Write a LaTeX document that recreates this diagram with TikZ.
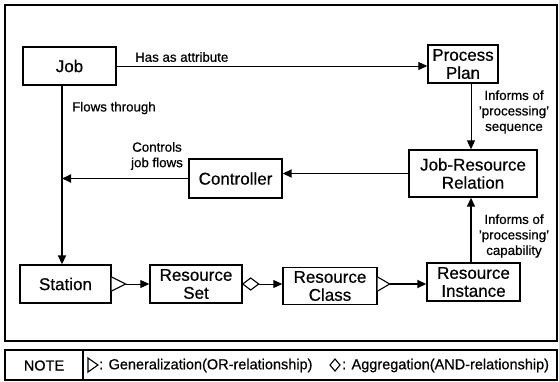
\documentclass[tikz,border=0pt]{standalone}
\usepackage{fontspec}
\setmainfont[FakeBold=0.6]{Liberation Sans}
\usetikzlibrary{arrows.meta,calc}
\begin{document}
\begin{tikzpicture}[x=1pt,y=-1pt,
  box/.style={draw,line width=1.4pt,inner sep=0pt,align=center,
    font=\fontsize{17}{18}\selectfont},
  lbl/.style={font=\fontsize{13.3}{15.5}\selectfont,align=center,inner sep=0pt},
  notetxt/.style={font=\fontsize{14.5}{16}\selectfont,inner sep=0pt},
  arr/.style={-{Triangle[length=9pt,width=8pt]}},
  thinln/.style={line width=0.9pt},
  thickln/.style={line width=1.8pt},
  sym/.style={line width=1.1pt,fill=white},
]
\useasboundingbox (0,0) rectangle (559,381);
% frames
\draw[line width=1.4pt] (5,5) rectangle (557,341);
\draw[line width=1.4pt] (5,350) rectangle (557,380);
\draw[line width=1.2pt] (83,350) -- (83,380);

% boxes
\node[box,minimum width=93pt,minimum height=38pt] (job) at (69.5,66) {Job};
\node[box,minimum width=70pt,minimum height=38pt] (pp) at (463,64) {Process\\Plan};
\node[box,minimum width=128pt,minimum height=47pt] (jrr) at (473,173.5) {Job-Resource\\Relation};
\node[box,minimum width=93pt,minimum height=39pt] (ctl) at (235.5,178.5) {Controller};
\node[box,minimum width=91pt,minimum height=38pt] (st) at (65.5,284) {Station};
\node[box,minimum width=92pt,minimum height=38pt] (rs) at (196,284) {Resource\\Set};
\node[box,minimum width=94pt,minimum height=37pt] (rc) at (330,286) {Resource\\Class};
\node[box,minimum width=93pt,minimum height=38pt] (ri) at (473.5,282) {Resource\\Instance};

% helper coordinates
\coordinate (vl) at (62,0);
\coordinate (ax) at (471,0);
\coordinate (row) at (0,284);

% connectors
\draw[thinln,arr] (job.east) -- (job.east -| pp.west);
\node[lbl,anchor=west] (l1) at (135,57) {Has as attribute};

\draw[thinln,arr] (pp.south -| ax) -- (jrr.north -| ax);
\node[lbl] (l2) at (514,112) {Informs of\\'processing'\\sequence};

\draw[thickln,arr] (jrr.west) -- (jrr.west -| ctl.east);
\draw[thickln,arr] (ctl.west) -- (ctl.west -| vl);
\node[lbl] (l3) at (157,156) {Controls\\job flows};

\draw[thickln,arr] (job.south -| vl) -- (st.north -| vl);
\node[lbl,anchor=west] (l4) at (72,108) {Flows through};

\draw[thickln,arr] (ri.north -| ax) -- (jrr.south -| ax);
\node[lbl] (l5) at (514,236) {Informs of\\'processing'\\capability};

% bottom row
\coordinate (t1a) at ($(st.east|-row)+(0,-7)$);
\coordinate (t1b) at ($(st.east|-row)+(14,0)$);
\coordinate (t1c) at ($(st.east|-row)+(0,7)$);
\draw[sym] (t1a) -- (t1b) -- (t1c);
\draw[thinln,arr] (t1b) -- (rs.west|-row);

\coordinate (d1a) at ($(rs.east|-row)$);
\coordinate (d1b) at ($(rs.east|-row)+(8,-6)$);
\coordinate (d1c) at ($(rs.east|-row)+(16,0)$);
\coordinate (d1d) at ($(rs.east|-row)+(8,6)$);
\draw[sym] (d1a) -- (d1b) -- (d1c) -- (d1d) -- cycle;
\draw[thinln,arr] (d1c) -- (rc.west|-row);

\coordinate (t2a) at ($(rc.east|-row)+(0,-7)$);
\coordinate (t2b) at ($(rc.east|-row)+(12,0)$);
\coordinate (t2c) at ($(rc.east|-row)+(0,7)$);
\draw[sym] (t2a) -- (t2b) -- (t2c);
\draw[thickln,arr] (t2b) -- (ri.west|-row);

% note row
\node[notetxt] (note) at (44,365.5) {NOTE};
\coordinate (n1) at (88,365);
\draw[line width=1.1pt] ($(n1)+(0,-7)$) -- ($(n1)+(10,0)$) -- ($(n1)+(0,7)$) -- cycle;
\node[notetxt,anchor=west] (g) at (99,365.5) {: Generalization(OR-relationship)};
\coordinate (n2) at (330,365);
\draw[line width=1.1pt] (n2) -- ($(n2)+(5,-6)$) -- ($(n2)+(10,0)$) -- ($(n2)+(5,6)$) -- cycle;
\node[notetxt,anchor=west] (a) at (342,365.5) {: Aggregation(AND-relationship)};
\end{tikzpicture}
\end{document}
